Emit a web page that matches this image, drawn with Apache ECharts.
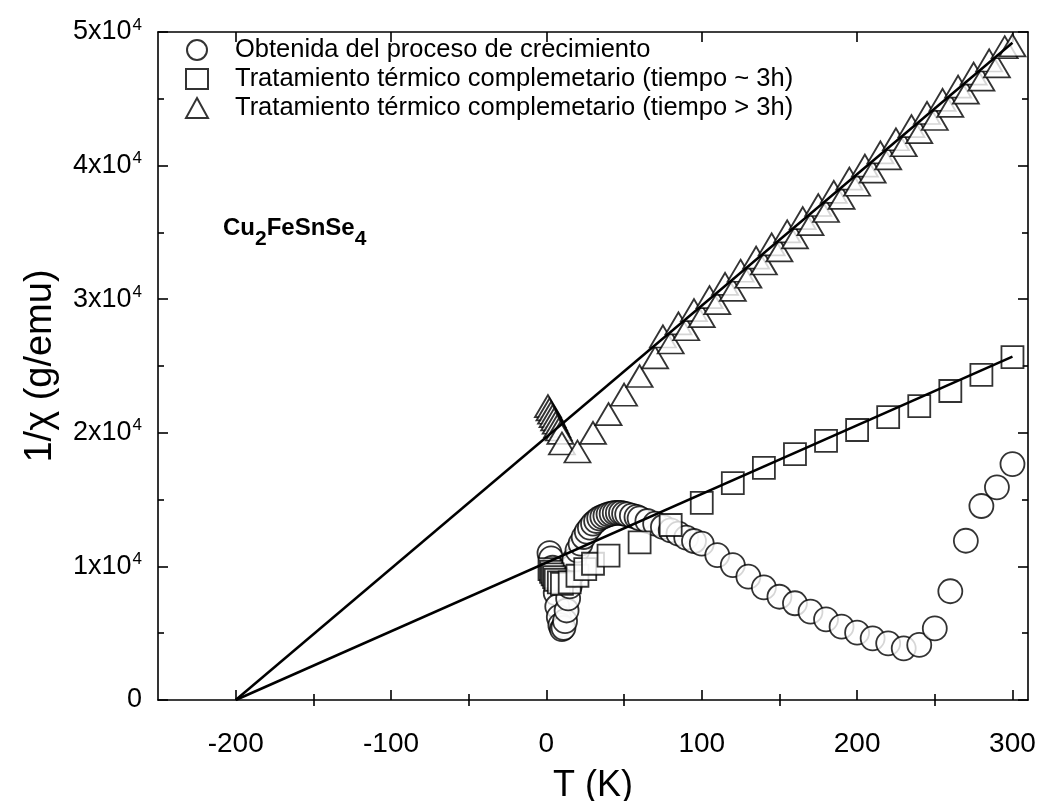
<!DOCTYPE html>
<html>
<head>
<meta charset="utf-8">
<script src="https://cdn.jsdelivr.net/npm/echarts@6/dist/echarts.min.js"></script>
<style>
html,body{margin:0;padding:0;background:#fff;}
#chart{width:1037px;height:801px;}
</style>
</head>
<body>
<div id="chart"></div>
<script>
// ---- data ----
const circT = [2,3,4,5,6,7,8,9,10,11,12,13,14,15,16,17,18,20,22,24,26,28,30,32,34,36,38,40,42,44,46,48,50,52,55,58,60,65,70,75,80,85,90,95,100,110,120,130,140,150,160,170,180,190,200,210,220,230,240,250,260,270,280,290,300];
const circV = [11000,10600,9900,9000,8000,7000,6200,5600,5300,5400,5900,6700,7600,8500,9300,10000,10500,11200,11700,12200,12600,12900,13200,13400,13600,13700,13800,13900,13950,14000,14000,14000,13950,13900,13800,13700,13600,13400,13200,12950,12700,12450,12150,11900,11700,10850,10100,9230,8430,7730,7240,6610,6040,5490,5040,4620,4240,3870,4120,5360,8140,11920,14520,15920,17660];

const sqT = [2,3,4,5,6,8,10,15,20,25,30,40,60,80,100,120,140,160,180,200,220,240,260,280,300];
const sqV = [9800,9600,9400,9200,9000,8800,8700,8800,9300,9800,10200,10800,11800,13100,14750,16240,17370,18410,19390,20210,21180,22000,23130,24330,25670];

const triT = [1,2,3,4,5,6,7,8,9,10,20,30,40,50,60,70,75,80,85,90,95,100,105,110,115,120,125,130,135,140,145,150,155,160,165,170,175,180,185,190,195,200,205,210,215,220,225,230,235,240,245,250,255,260,265,270,275,280,285,290,295,300];
const triV = [22000,21750,21500,21250,21000,20750,20500,20250,20000,19200,18600,20000,21400,22850,24250,25650,27210,26760,28190,27750,29180,28730,30160,29710,31150,30700,32130,31680,33110,32670,34100,33650,35080,34630,36070,35620,37050,36600,38030,37590,39020,38570,40000,39550,40990,40540,41970,41520,42950,42510,43940,43490,44920,44470,45910,45460,46890,46440,47870,47430,48860,49000];

// linear fits (Curie-Weiss) : end points
const fitTriT = [-200, 300];
const fitTriV = [0, 49200];
const fitSqT = [-200, 300];
const fitSqV = [0, 25700];

const xMajor = [-200,-100,0,100,200,300];
const xMinor = [-150,-50,50,150,250];

const seriesNames = [
  'Obtenida del proceso de crecimiento',
  'Tratamiento térmico complemetario (tiempo ~ 3h)',
  'Tratamiento térmico complemetario (tiempo > 3h)'
];

const zip = (a,b) => a.map((v,i)=>[v,b[i]]);

const FONT = 'Liberation Sans, Arial, sans-serif';
const chart = echarts.init(document.getElementById('chart'), null, {renderer:'canvas'});

const markStyle = {color:'#fff', borderColor:'#000', borderWidth:1.8};
const tickStyle = {color:'#000', width:1.6};
const xBase = {type:'value', min:-250, max:310, splitLine:{show:false}, gridIndex:0};

function yLabel(v){
  if (v === 0) return '{n|0}';
  return '{n|' + (v/10000) + 'x10}{e|4}';
}

chart.setOption({
  animation:false,
  backgroundColor:'#fff',
  grid:{left:158, right:9, top:32, bottom:101, containLabel:false, outerBoundsMode:'none'},
  legend:{
    orient:'vertical', left:185, top:37, itemWidth:22, itemHeight:20, itemGap:3,
    padding:0,
    textStyle:{fontFamily:FONT, fontSize:25.5, color:'#000', lineHeight:20, padding:[0,0,0,22]},
    data: seriesNames
  },
  xAxis:[
    Object.assign({}, xBase, {
      position:'bottom',
      name:'T (K)', nameLocation:'middle', nameGap:68,
      nameTextStyle:{fontFamily:FONT, fontSize:36, color:'#000'},
      axisLine:{show:true, onZero:false, lineStyle:{color:'#000', width:1.6}},
      axisTick:{show:true, inside:true, length:10, lineStyle:tickStyle, customValues:xMajor},
      axisLabel:{show:true, customValues:xMajor, fontFamily:FONT, fontSize:28, color:'#000', margin:30}
    }),
    Object.assign({}, xBase, {
      position:'bottom',
      axisLine:{show:false},
      axisTick:{show:true, inside:true, length:6, lineStyle:tickStyle, customValues:xMinor},
      axisLabel:{show:false, customValues:xMinor}
    }),
    Object.assign({}, xBase, {
      position:'top',
      axisLine:{show:true, onZero:false, lineStyle:{color:'#000', width:1.6}},
      axisTick:{show:true, inside:true, length:10, lineStyle:tickStyle, customValues:xMajor},
      axisLabel:{show:false, customValues:xMajor}
    }),
    Object.assign({}, xBase, {
      position:'top',
      axisLine:{show:false},
      axisTick:{show:true, inside:true, length:6, lineStyle:tickStyle, customValues:xMinor},
      axisLabel:{show:false, customValues:xMinor}
    })
  ],
  yAxis:[
    {
      type:'value', min:0, max:50000, interval:10000, position:'left',
      name:'1/χ (g/emu)', nameLocation:'middle', nameGap:98, nameRotate:90,
      nameTextStyle:{fontFamily:FONT, fontSize:38, color:'#000'},
      splitLine:{show:false},
      axisLine:{show:true, onZero:false, lineStyle:{color:'#000', width:1.6}},
      axisTick:{show:true, inside:true, length:10, lineStyle:tickStyle},
      minorTick:{show:true, splitNumber:2, length:6, lineStyle:tickStyle},
      axisLabel:{
        margin:16, formatter:yLabel,
        rich:{
          n:{fontFamily:FONT, fontSize:27, color:'#000'},
          e:{fontFamily:FONT, fontSize:17, color:'#000', padding:[0,0,14,1]}
        }
      }
    },
    {
      type:'value', min:0, max:50000, interval:10000, position:'right',
      splitLine:{show:false},
      axisLine:{show:true, onZero:false, lineStyle:{color:'#000', width:1.6}},
      axisTick:{show:true, inside:true, length:10, lineStyle:tickStyle},
      minorTick:{show:true, splitNumber:2, length:6, lineStyle:tickStyle},
      axisLabel:{show:false}
    }
  ],
  graphic:[{
    type:'text', left:223, top:216,
    style:{
      text:'{b|Cu}{s|2}{b|FeSnSe}{s|4}',
      rich:{
        b:{fontFamily:FONT, fontWeight:'bold', fontSize:24, color:'#000', lineHeight:32, verticalAlign:'top'},
        s:{fontFamily:FONT, fontWeight:'bold', fontSize:21, color:'#000', lineHeight:32, verticalAlign:'top', padding:[13,0,0,0]}
      }
    }
  }],
  series:[
    {name:seriesNames[0], type:'scatter', xAxisIndex:0, yAxisIndex:0, symbol:'circle', symbolSize:24,
     itemStyle:markStyle, data:zip(circT,circV), z:2},
    {name:seriesNames[1], type:'scatter', xAxisIndex:0, yAxisIndex:0, symbol:'rect', symbolSize:22,
     itemStyle:markStyle, data:zip(sqT,sqV), z:2},
    {name:seriesNames[2], type:'scatter', xAxisIndex:0, yAxisIndex:0, symbol:'triangle', symbolSize:[26,22],
     itemStyle:markStyle, data:zip(triT,triV), z:2},
    {name:'fit1', type:'line', xAxisIndex:0, yAxisIndex:0, symbol:'none', silent:true,
     lineStyle:{color:'#000', width:2.5}, data:zip(fitTriT,fitTriV), z:5},
    {name:'fit2', type:'line', xAxisIndex:0, yAxisIndex:0, symbol:'none', silent:true,
     lineStyle:{color:'#000', width:2.5}, data:zip(fitSqT,fitSqV), z:5}
  ]
});
</script>
</body>
</html>
